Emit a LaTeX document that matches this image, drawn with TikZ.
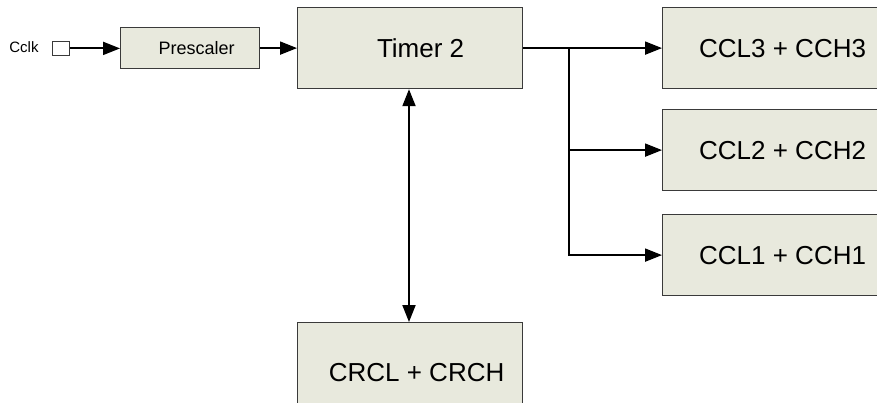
\documentclass[tikz,border=0pt]{standalone}
\usepackage{fontspec}
\setmainfont{Liberation Sans}
\usetikzlibrary{arrows.meta}
\definecolor{boxfill}{HTML}{E8E9DD}
\definecolor{boxline}{HTML}{3A3A3A}
\tikzset{
	block/.style={draw=boxline,line width=1.2pt,fill=boxfill,rectangle,anchor=north west,inner sep=0pt,font=\fontsize{26}{30}\selectfont},
	arr/.style={line width=2pt,-{Triangle[length=17pt,width=13pt]}},
	dblarr/.style={line width=2pt,{Triangle[length=17pt,width=13pt]}-{Triangle[length=17pt,width=13pt]}}
}
\begin{document}
\begin{tikzpicture}[x=1pt,y=-1pt]
		\useasboundingbox (0,0) rectangle (877,402);
		\clip (0,0) rectangle (877,402);
		% Input
		\node[font=\fontsize{15}{18}\selectfont] (cclk) at (24,47) {Cclk};
		\node[draw=boxline,fill=white,line width=0.8pt,minimum width=17pt,minimum height=14pt,inner sep=0pt,anchor=north west] (pin) at (52,41) {};
		% Prescaler
		\node[block,minimum width=139pt,minimum height=41pt,font=\fontsize{18}{22}\selectfont] (pre) at (120,27) {\hspace*{13pt}Prescaler};
		% Timer 2
		\node[block,minimum width=225pt,minimum height=81pt] (timer) at (297,7) {\hspace*{21pt}Timer 2};
		% Compare registers
		\node[block,minimum width=240pt,minimum height=81pt] (ccl3) at (662,7) {CCL3 + CCH3};
		\node[block,minimum width=240pt,minimum height=81pt] (ccl2) at (662,109) {CCL2 + CCH2};
		\node[block,minimum width=240pt,minimum height=81pt] (ccl1) at (662,214) {CCL1 + CCH1};
		% Reload register
		\node[block,minimum width=225pt,minimum height=100pt] (crc) at (297,322) {\hspace*{13pt}CRCL + CRCH};
		% Connections
		\draw[arr] (pin.east) -- (pin.east -| pre.west);
		\draw[arr] (pre.east) -- (pre.east -| timer.west);
		\draw[arr] (timer.east) -- (ccl3.west);
		\coordinate (split) at (569,47.5);
		\draw[arr] (split |- ccl2.west) -- (ccl2.west);
		\draw[arr] (split) |- (ccl1.west);
		\draw[dblarr] (timer.south -| 409,0) -- (crc.north -| 409,0);
\end{tikzpicture}
\end{document}
